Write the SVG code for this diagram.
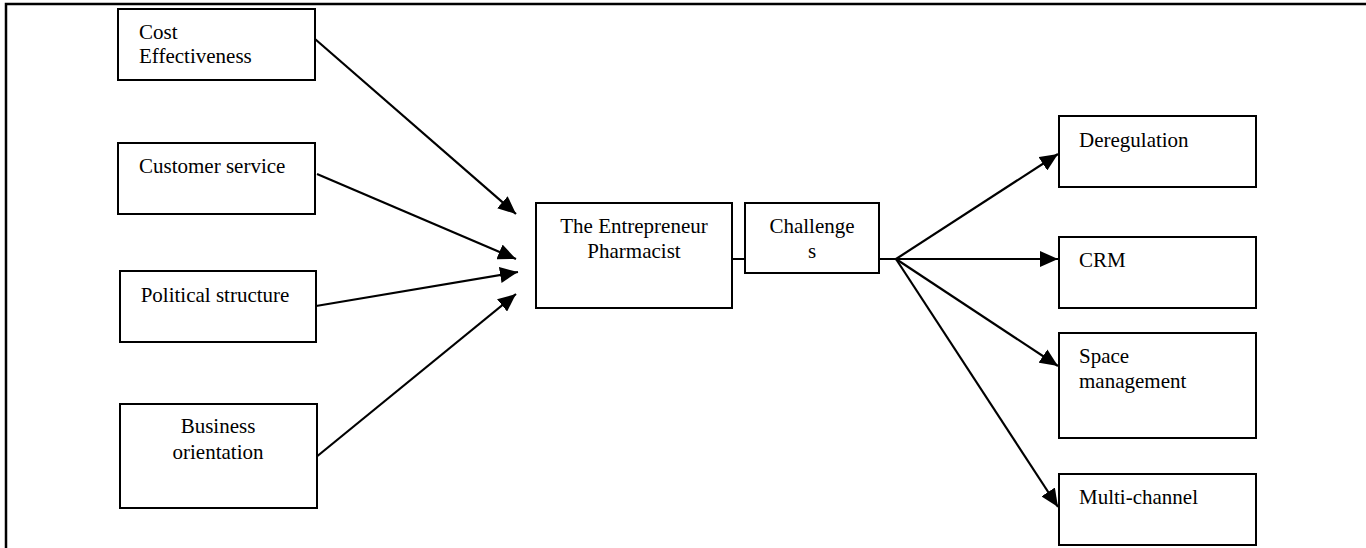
<svg xmlns="http://www.w3.org/2000/svg" width="1366" height="548" viewBox="0 0 1366 548">
<style>
.box{fill:#fff;stroke:#000;stroke-width:2}
.t{font-family:"Liberation Serif","Times New Roman",serif;font-size:21px;fill:#000}
.c{text-anchor:middle}
.ln{stroke:#000;stroke-width:2;fill:none}
.ar{stroke:#000;stroke-width:2.2;fill:none;marker-end:url(#ah)}
</style>
<defs>
<marker id="ah" markerUnits="userSpaceOnUse" markerWidth="19" markerHeight="16" refX="18" refY="8" orient="auto">
<path d="M0,0 L18,8 L0,16 z" fill="#000"/>
</marker>
</defs>
<rect width="1366" height="548" fill="#fff"/>
<path d="M6,548 V4 H1366" stroke="#000" stroke-width="2.5" fill="none"/>

<g id="connectors">
<line class="ar" x1="315" y1="39" x2="516" y2="214"/>
<line class="ar" x1="317" y1="174" x2="516" y2="259"/>
<line class="ar" x1="316" y1="306" x2="518" y2="272"/>
<line class="ar" x1="315" y1="458" x2="516" y2="294"/>
<line class="ln" x1="732" y1="259" x2="745" y2="259"/>
<line class="ln" x1="879" y1="259" x2="896" y2="259"/>
<line class="ar" x1="896" y1="259" x2="1058" y2="154"/>
<line class="ar" x1="896" y1="259" x2="1058" y2="259"/>
<line class="ar" x1="896" y1="259" x2="1058" y2="366"/>
<line class="ar" x1="896" y1="259" x2="1058" y2="507"/>
</g>

<g id="cost">
<rect class="box" x="118" y="9" width="197" height="71"/>
<text class="t" x="139" y="39">Cost</text>
<text class="t" x="139" y="63">Effectiveness</text>
</g>
<g id="customer">
<rect class="box" x="118" y="143" width="197" height="71"/>
<text class="t" x="139" y="173">Customer service</text>
</g>
<g id="political">
<rect class="box" x="120" y="271" width="196" height="71"/>
<text class="t c" x="215" y="302">Political structure</text>
</g>
<g id="business">
<rect class="box" x="120" y="404" width="197" height="104"/>
<text class="t c" x="218" y="433">Business</text>
<text class="t c" x="218" y="459">orientation</text>
</g>
<g id="entrepreneur">
<rect class="box" x="536" y="203" width="196" height="105"/>
<text class="t c" x="634" y="233">The Entrepreneur</text>
<text class="t c" x="634" y="258">Pharmacist</text>
</g>
<g id="challenges">
<rect class="box" x="745" y="203" width="134" height="70"/>
<text class="t c" x="812" y="233">Challenge</text>
<text class="t c" x="812" y="258">s</text>
</g>
<g id="deregulation">
<rect class="box" x="1059" y="116" width="197" height="71"/>
<text class="t" x="1079" y="147">Deregulation</text>
</g>
<g id="crm">
<rect class="box" x="1059" y="237" width="197" height="71"/>
<text class="t" x="1079" y="267">CRM</text>
</g>
<g id="space">
<rect class="box" x="1059" y="333" width="197" height="105"/>
<text class="t" x="1079" y="363">Space</text>
<text class="t" x="1079" y="388">management</text>
</g>
<g id="multichannel">
<rect class="box" x="1059" y="474" width="197" height="71"/>
<text class="t" x="1079" y="504">Multi-channel</text>
</g>
</svg>
